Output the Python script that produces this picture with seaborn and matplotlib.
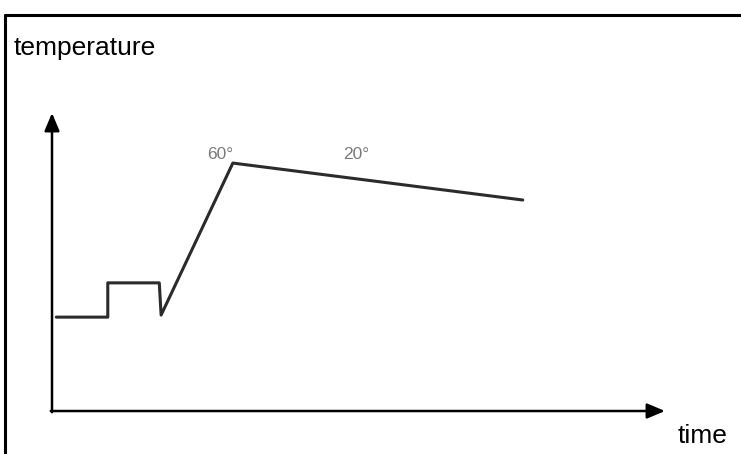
""" Temperature profile sketch: step, ramp up, slow cool-down. """
import numpy as np
import pandas as pd
import seaborn as sns
import matplotlib.pyplot as plt
from matplotlib.lines import Line2D

sns.set_theme(style="white")
plt.rcParams['font.family'] = ['Liberation Sans', 'DejaVu Sans']

# profile (arbitrary units, axes run 0..100)
time = [0.7, 9.1, 9.1, 17.5, 17.8, 29.5, 76.8]
temperature = [31.5, 31.5, 43.0, 43.0, 32.2, 83.2, 70.8]

# annotations over the curve
label_text = ["60°", "20°"]
label_time = [27.4, 49.6]
label_temp = [86.2, 86.2]

df = pd.DataFrame({"time": time, "temperature": temperature})

fig = plt.figure(figsize=(7.41, 4.54), dpi=100)
ax = fig.add_axes([52 / 741, 43 / 454, 613 / 741, 298 / 454])

sns.lineplot(data=df, x="time", y="temperature", sort=False, estimator=None,
             color="#2b2b2b", linewidth=2.2, ax=ax)

for txt, tx, ty in zip(label_text, label_time, label_temp):
    ax.text(tx, ty, txt, ha="center", va="center", fontsize=12.5,
            color="#7a7a7a", family=['Liberation Sans Narrow', 'Liberation Sans', 'DejaVu Sans'])

ax.set_xlim(0, 100)
ax.set_ylim(0, 100)
ax.set_xticks([])
ax.set_yticks([])
ax.set_xlabel("")
ax.set_ylabel("")
for s in ax.spines.values():
    s.set_visible(False)

# axes drawn as arrows
arrow = dict(arrowstyle="-|>,head_length=0.9,head_width=0.38", color="black",
             lw=1.8, shrinkA=0, shrinkB=0)
ax.annotate("", xy=(1, 0), xytext=(-0.002, 0), xycoords="axes fraction",
            arrowprops=arrow, annotation_clip=False)
ax.annotate("", xy=(0, 1), xytext=(0, -0.004), xycoords="axes fraction",
            arrowprops=arrow, annotation_clip=False)

fig.text(14 / 741, (454 - 55) / 454, "temperature", fontsize=19,
         ha="left", va="baseline", color="black")
fig.text(678 / 741, (454 - 443) / 454, "time", fontsize=19,
         ha="left", va="baseline", color="black")

# outer frame, only top and left edges show
fig.add_artist(Line2D([5 / 741, 1.0], [1 - 15 / 454, 1 - 15 / 454],
                      transform=fig.transFigure, color="black", lw=2.2))
fig.add_artist(Line2D([5 / 741, 5 / 741], [0.0, 1 - 15 / 454],
                      transform=fig.transFigure, color="black", lw=2.2))

fig.savefig("out.png", dpi=100, facecolor="white")
